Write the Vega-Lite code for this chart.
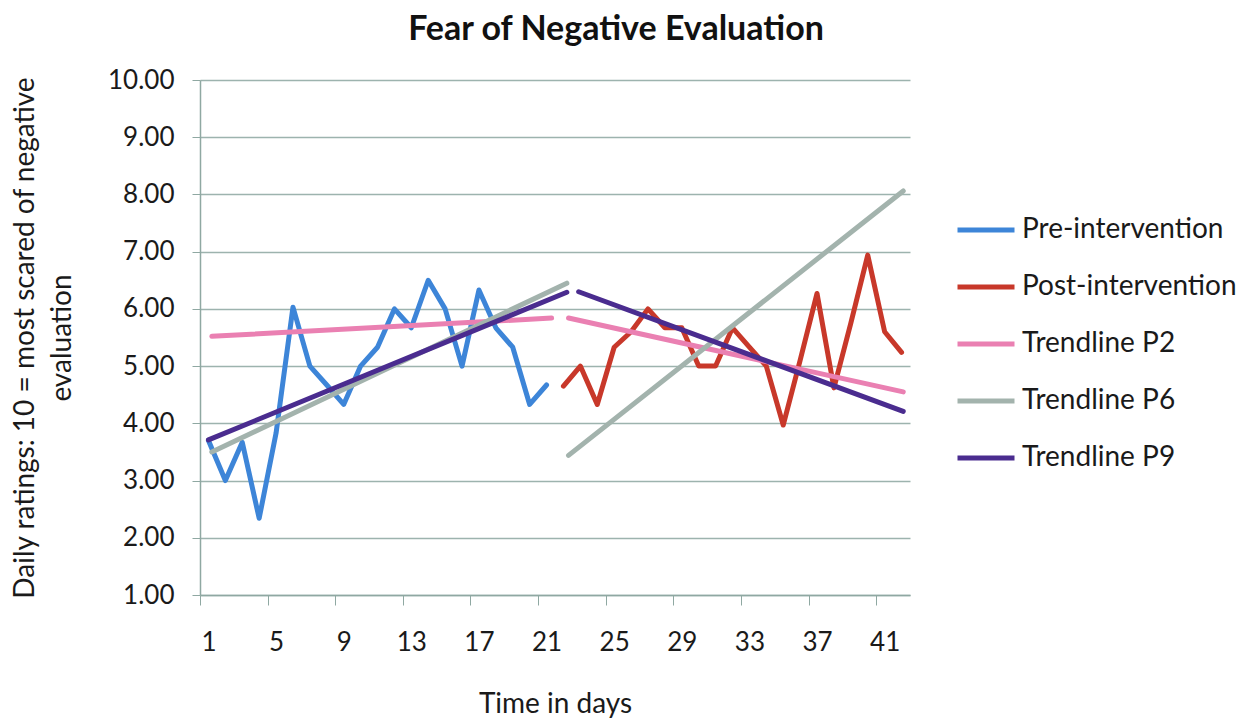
{
  "$schema": "https://vega.github.io/schema/vega-lite/v6.json",
  "width": 710,
  "height": 515,
  "autosize": {"type": "none"},
  "padding": {"left": 200, "top": 80, "right": 340, "bottom": 124},
  "background": "white",
  "config": {
    "font": "Lato",
    "view": {"stroke": null},
    "axis": {"labelColor": "#1a1a1a", "titleColor": "#1a1a1a", "labelFont": "Lato", "titleFont": "Lato", "titleFontWeight": "normal"},
    "legend": {"labelFont": "Lato"}
  },
  "title": {
    "text": "Fear of Negative Evaluation",
    "fontSize": 34,
    "fontWeight": "bold",
    "font": "Lato",
    "color": "#111111",
    "anchor": "middle",
    "dx": 61,
    "offset": 20
  },
  "datasets": {
    "obs": [
      {"series": "Pre-intervention", "day": 1, "value": 3.70},
      {"series": "Pre-intervention", "day": 2, "value": 3.00},
      {"series": "Pre-intervention", "day": 3, "value": 3.67},
      {"series": "Pre-intervention", "day": 4, "value": 2.34},
      {"series": "Pre-intervention", "day": 5, "value": 3.83},
      {"series": "Pre-intervention", "day": 6, "value": 6.03},
      {"series": "Pre-intervention", "day": 7, "value": 5.00},
      {"series": "Pre-intervention", "day": 8, "value": 4.67},
      {"series": "Pre-intervention", "day": 9, "value": 4.33},
      {"series": "Pre-intervention", "day": 10, "value": 5.00},
      {"series": "Pre-intervention", "day": 11, "value": 5.33},
      {"series": "Pre-intervention", "day": 12, "value": 6.00},
      {"series": "Pre-intervention", "day": 13, "value": 5.67},
      {"series": "Pre-intervention", "day": 14, "value": 6.50},
      {"series": "Pre-intervention", "day": 15, "value": 6.00},
      {"series": "Pre-intervention", "day": 16, "value": 5.00},
      {"series": "Pre-intervention", "day": 17, "value": 6.33},
      {"series": "Pre-intervention", "day": 18, "value": 5.67},
      {"series": "Pre-intervention", "day": 19, "value": 5.33},
      {"series": "Pre-intervention", "day": 20, "value": 4.33},
      {"series": "Pre-intervention", "day": 21, "value": 4.67},
      {"series": "Post-intervention", "day": 22, "value": 4.65},
      {"series": "Post-intervention", "day": 23, "value": 5.00},
      {"series": "Post-intervention", "day": 24, "value": 4.33},
      {"series": "Post-intervention", "day": 25, "value": 5.33},
      {"series": "Post-intervention", "day": 26, "value": 5.60},
      {"series": "Post-intervention", "day": 27, "value": 6.00},
      {"series": "Post-intervention", "day": 28, "value": 5.67},
      {"series": "Post-intervention", "day": 29, "value": 5.67},
      {"series": "Post-intervention", "day": 30, "value": 5.00},
      {"series": "Post-intervention", "day": 31, "value": 5.00},
      {"series": "Post-intervention", "day": 32, "value": 5.67},
      {"series": "Post-intervention", "day": 33, "value": 5.33},
      {"series": "Post-intervention", "day": 34, "value": 5.00},
      {"series": "Post-intervention", "day": 35, "value": 3.97},
      {"series": "Post-intervention", "day": 36, "value": 5.10},
      {"series": "Post-intervention", "day": 37, "value": 6.27},
      {"series": "Post-intervention", "day": 38, "value": 4.62},
      {"series": "Post-intervention", "day": 39, "value": 5.75},
      {"series": "Post-intervention", "day": 40, "value": 6.94},
      {"series": "Post-intervention", "day": 41, "value": 5.60},
      {"series": "Post-intervention", "day": 42, "value": 5.24}
    ],
    "trend": [
      {"series": "Trendline P2", "seg": "P2 pre", "day": 1.2, "value": 5.52},
      {"series": "Trendline P2", "seg": "P2 pre", "day": 21.3, "value": 5.84},
      {"series": "Trendline P2", "seg": "P2 post", "day": 22.3, "value": 5.84},
      {"series": "Trendline P2", "seg": "P2 post", "day": 42.1, "value": 4.55},
      {"series": "Trendline P6", "seg": "P6 pre", "day": 1.2, "value": 3.50},
      {"series": "Trendline P6", "seg": "P6 pre", "day": 22.2, "value": 6.45},
      {"series": "Trendline P6", "seg": "P6 post", "day": 22.3, "value": 3.44},
      {"series": "Trendline P6", "seg": "P6 post", "day": 42.1, "value": 8.06},
      {"series": "Trendline P9", "seg": "P9 pre", "day": 1.0, "value": 3.71},
      {"series": "Trendline P9", "seg": "P9 pre", "day": 22.2, "value": 6.29},
      {"series": "Trendline P9", "seg": "P9 post", "day": 22.9, "value": 6.30},
      {"series": "Trendline P9", "seg": "P9 post", "day": 42.1, "value": 4.21}
    ]
  },
  "encoding": {
    "x": {
      "field": "day",
      "type": "quantitative",
      "scale": {"domain": [0.5, 42.5], "nice": false, "zero": false},
      "axis": {
        "title": "Time in days",
        "titleFontSize": 28,
        "titlePadding": 35,
        "values": [1, 5, 9, 13, 17, 21, 25, 29, 33, 37, 41],
        "labelFontSize": 26,
        "labelPadding": 24,
        "tickSize": 10,
        "tickOffset": -8.45,
        "labelOffset": 8.45,
        "tickColor": "#8fa8a2",
        "domainColor": "#8fa8a2",
        "domainWidth": 1.5,
        "grid": false,
        "labelFlush": false
      }
    },
    "y": {
      "field": "value",
      "type": "quantitative",
      "scale": {"domain": [1, 10], "nice": false, "zero": false},
      "axis": {
        "title": ["Daily ratings: 10 = most scared of negative", "evaluation"],
        "titleFontSize": 28,
        "titleLineHeight": 37,
        "titlePadding": 31,
        "values": [1, 2, 3, 4, 5, 6, 7, 8, 9, 10],
        "format": ".2f",
        "labelFontSize": 26,
        "labelPadding": 18,
        "tickSize": 8,
        "tickColor": "#8fa8a2",
        "domainColor": "#8fa8a2",
        "domainWidth": 1.5,
        "grid": true,
        "gridColor": "#9db3ae",
        "gridWidth": 1.5
      }
    },
    "color": {
      "field": "series",
      "type": "nominal",
      "scale": {
        "domain": ["Pre-intervention", "Post-intervention", "Trendline P2", "Trendline P6", "Trendline P9"],
        "range": ["#3d85d8", "#c8382a", "#ea80b2", "#a3b3ad", "#4a2c8f"]
      },
      "legend": {
        "title": null,
        "orient": "none",
        "legendX": 755,
        "legendY": 119,
        "padding": 0,
        "symbolType": "stroke",
        "symbolSize": 3249,
        "symbolStrokeWidth": 4,
        "rowPadding": 12,
        "labelFontSize": 28,
        "labelColor": "#1a1a1a",
        "labelOffset": 5,
        "labelLimit": 400
      }
    },
    "strokeWidth": {
      "field": "series",
      "type": "nominal",
      "scale": {
        "domain": ["Pre-intervention", "Post-intervention", "Trendline P2", "Trendline P6", "Trendline P9"],
        "range": [5, 5, 3.5, 3.5, 3.5]
      },
      "legend": null
    }
  },
  "layer": [
    {
      "data": {"name": "obs"},
      "mark": {"type": "line", "strokeJoin": "round", "strokeCap": "round"},
      "encoding": {"detail": {"field": "series"}}
    },
    {
      "data": {"name": "trend"},
      "mark": {"type": "line", "strokeCap": "round"},
      "encoding": {"detail": {"field": "seg"}}
    }
  ]
}
